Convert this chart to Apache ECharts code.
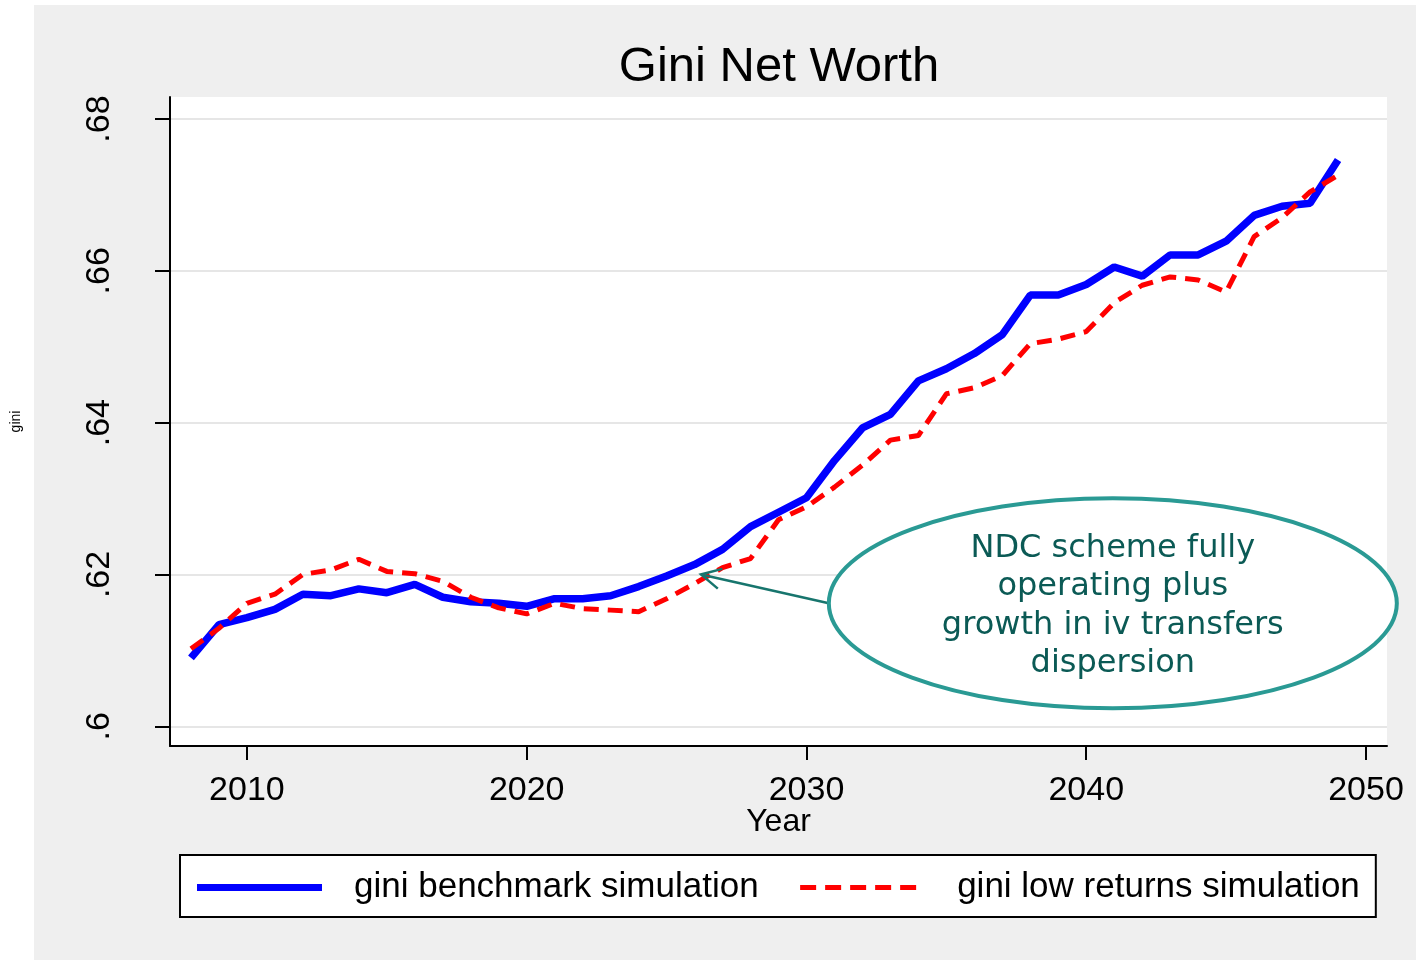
<!DOCTYPE html>
<html>
<head>
<meta charset="utf-8">
<script src="https://cdn.jsdelivr.net/npm/echarts@6/dist/echarts.min.js"></script>
<style>
  html, body { margin: 0; padding: 0; background: #fff; }
  #panel { position: absolute; left: 34px; top: 5px; width: 1382px; height: 955px; background: #efefef; }
  #main { position: absolute; left: 0; top: 0; width: 1416px; height: 960px; }
</style>
</head>
<body>
<div id="panel"></div>
<div id="main"></div>
<script>
var years = [2008, 2009, 2010, 2011, 2012, 2013, 2014, 2015, 2016, 2017, 2018, 2019, 2020, 2021,
  2022, 2023, 2024, 2025, 2026, 2027, 2028, 2029, 2030, 2031, 2032, 2033, 2034, 2035,
  2036, 2037, 2038, 2039, 2040, 2041, 2042, 2043, 2044, 2045, 2046, 2047, 2048, 2049]

var gini_benchmark = [0.6090, 0.6134, 0.6143, 0.6154, 0.6174, 0.6172, 0.6181, 0.6176, 0.6187, 0.6170,
  0.6164, 0.6162, 0.6158, 0.6168, 0.6168, 0.6172, 0.6184, 0.6198, 0.6213, 0.6233,
  0.6263, 0.6282, 0.6301, 0.6350, 0.6393, 0.6411, 0.6455, 0.6471, 0.6491, 0.6516,
  0.6568, 0.6568, 0.6582, 0.6605, 0.6593, 0.6621, 0.6621, 0.6639, 0.6673, 0.6685,
  0.6689, 0.6746]

var gini_low_returns = [0.6102, 0.6129, 0.6162, 0.6174, 0.6200, 0.6206, 0.6220, 0.6204, 0.6201, 0.6191,
  0.6170, 0.6156, 0.6148, 0.6162, 0.6155, 0.6153, 0.6151, 0.6168, 0.6188, 0.6209,
  0.6221, 0.6272, 0.6289, 0.6315, 0.6344, 0.6377, 0.6383, 0.6438, 0.6446, 0.6462,
  0.6504, 0.6510, 0.6520, 0.6558, 0.6581, 0.6592, 0.6588, 0.6572, 0.6645, 0.6670,
  0.6704, 0.6726]

var x_ticks = [2010, 2020, 2030, 2040, 2050]
var y_ticks = [0.6, 0.62, 0.64, 0.66, 0.68]
var y_tick_labels = ['.6', '.62', '.64', '.66', '.68']

// annotation: arrow tip and ellipse centre in data units
var note_lines = ['NDC scheme fully', 'operating plus', 'growth in iv transfers', 'dispersion']
var note_tip = [2026.23, 0.6200]
var note_centre = [2040.95, 0.6162]

function pairs(xs, ys) {
  var out = []
  for (var i = 0; i < xs.length; i++) out.push([xs[i], ys[i]])
  return out
}

var sans = 'Liberation Sans, Arial, sans-serif'

var chart = echarts.init(document.getElementById('main'))
var option = {
  animation: false,
  backgroundColor: 'transparent',
  title: {
    text: 'Gini Net Worth',
    left: 774,
    top: 38,
    textAlign: 'center',
    textStyle: { fontFamily: sans, fontSize: 49, fontWeight: 'normal', color: '#000' },
  },
  grid: {
    left: 170,
    top: 97,
    right: 29,
    bottom: 214,
    show: true,
    backgroundColor: '#fff',
    borderWidth: 0,
  },
  legend: {
    left: 180,
    top: 855,
    orient: 'horizontal',
    padding: [15, 16, 12, 17],
    borderColor: '#000',
    borderWidth: 2,
    backgroundColor: '#fff',
    itemWidth: 125,
    itemHeight: 7,
    itemGap: 39,
    textStyle: { fontFamily: sans, fontSize: 35, color: '#000', padding: [0, 0, 0, 27] },
    data: [
      { name: 'gini benchmark simulation', icon: 'rect', itemStyle: { color: '#0000ff' } },
      {
        name: 'gini low returns simulation',
        itemStyle: { opacity: 0 },
        lineStyle: { color: '#ff0000', width: 5, type: [16, 9] },
      },
    ],
  },
  xAxis: {
    type: 'value',
    min: 2007.25,
    max: 2050.75,
    name: 'Year',
    nameLocation: 'middle',
    nameGap: 60,
    nameMoveOverlap: false,
    nameTextStyle: { fontFamily: sans, fontSize: 32, color: '#000' },
    axisLine: { show: true, onZero: false, lineStyle: { color: '#000', width: 2 } },
    axisTick: { show: true, length: 14, customValues: x_ticks, lineStyle: { color: '#000', width: 2 } },
    axisLabel: {
      customValues: x_ticks,
      fontFamily: sans,
      fontSize: 34,
      color: '#000',
      margin: 28,
      formatter: function (v) {
        return String(v)
      },
    },
    splitLine: { show: false },
  },
  yAxis: {
    type: 'value',
    min: 0.5974,
    max: 0.6829,
    name: 'gini',
    nameLocation: 'middle',
    nameRotate: 90,
    nameGap: 147,
    nameTextStyle: { fontFamily: sans, fontSize: 14, color: '#000' },
    axisLine: { show: true, onZero: false, lineStyle: { color: '#000', width: 2 } },
    axisTick: { show: true, length: 15, customValues: y_ticks, lineStyle: { color: '#000', width: 2 } },
    axisLabel: {
      customValues: y_ticks,
      rotate: 90,
      margin: 53,
      fontFamily: sans,
      fontSize: 34,
      color: '#000',
      formatter: function (v) {
        for (var i = 0; i < y_ticks.length; i++) {
          if (Math.abs(y_ticks[i] - v) < 1e-6) return y_tick_labels[i]
        }
        return ''
      },
    },
    splitLine: { show: true, lineStyle: { color: '#e6e6e6', width: 2 } },
  },
  series: [
    {
      name: 'gini benchmark simulation',
      type: 'line',
      data: pairs(years, gini_benchmark),
      showSymbol: false,
      symbol: 'none',
      z: 3,
      lineStyle: { color: '#0000ff', width: 7.5 },
      itemStyle: { color: '#0000ff' },
    },
    {
      name: 'gini low returns simulation',
      type: 'line',
      data: pairs(years, gini_low_returns),
      showSymbol: false,
      symbol: 'none',
      z: 4,
      lineStyle: { color: '#ff0000', width: 5, type: [15, 9] },
      itemStyle: { color: '#ff0000' },
    },
  ],
}
chart.setOption(option)

// ellipse + arrow annotation, placed through the grid's own scales
var tip = chart.convertToPixel({ gridIndex: 0 }, note_tip)
var ctr = chart.convertToPixel({ gridIndex: 0 }, note_centre)
var rx = 284
var ry = 105
var tail = [ctr[0] - rx, ctr[1]]
var ang = Math.atan2(tail[1] - tip[1], tail[0] - tip[0])
var head = 22
var spread = 0.48
chart.setOption({
  graphic: [
    {
      type: 'line',
      z: 50,
      shape: { x1: tail[0], y1: tail[1], x2: tip[0], y2: tip[1] },
      style: { stroke: '#17756d', lineWidth: 2.5 },
    },
    {
      type: 'polyline',
      z: 50,
      shape: {
        points: [
          [tip[0] + head * Math.cos(ang - spread), tip[1] + head * Math.sin(ang - spread)],
          [tip[0], tip[1]],
          [tip[0] + head * Math.cos(ang + spread), tip[1] + head * Math.sin(ang + spread)],
        ],
      },
      style: { stroke: '#17756d', lineWidth: 2.5, fill: null },
    },
    {
      type: 'ellipse',
      z: 50,
      shape: { cx: ctr[0], cy: ctr[1], rx: rx, ry: ry },
      style: { stroke: '#2a9a94', lineWidth: 4, fill: '#fff' },
    },
    {
      type: 'text',
      z: 51,
      x: ctr[0],
      y: ctr[1] + 3,
      style: {
        text: note_lines.join('\n'),
        fontFamily: 'DejaVu Sans, Verdana, sans-serif',
        fontSize: 32,
        lineHeight: 38.5,
        fill: '#0b5a55',
        align: 'center',
        verticalAlign: 'middle',
      },
    },
  ],
})
</script>
</body>
</html>
